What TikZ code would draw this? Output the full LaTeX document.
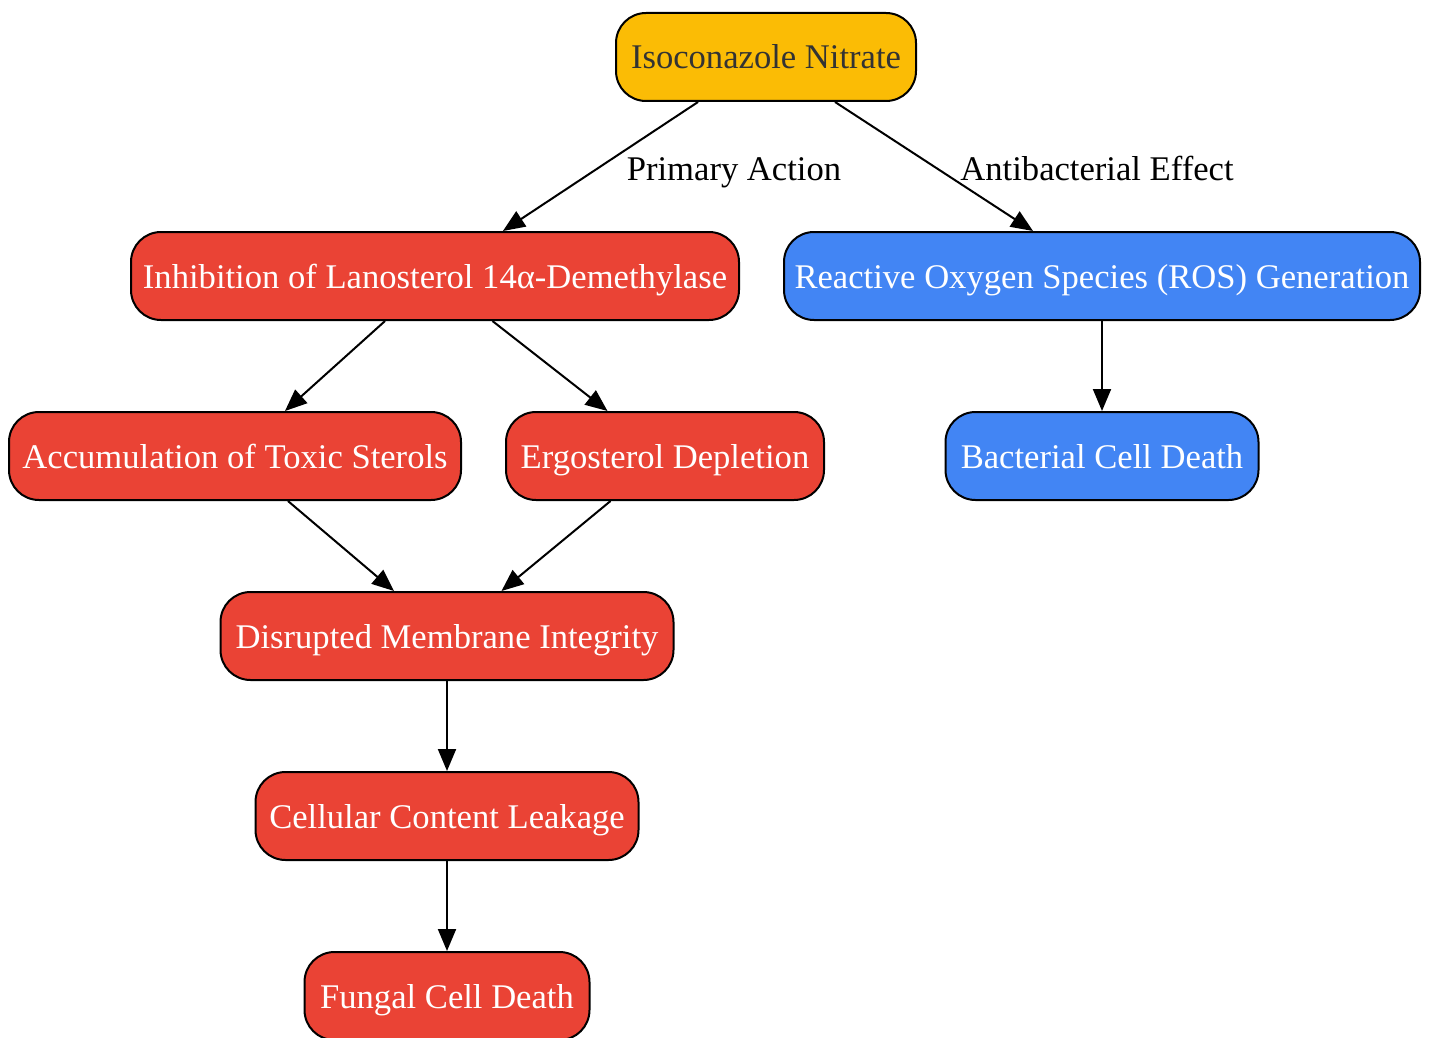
\documentclass[tikz,border=0pt]{standalone}
\usepackage{fontspec}
\setmainfont{Liberation Serif}
\usetikzlibrary{arrows.meta}

\definecolor{drugcol}{HTML}{FBBC05}
\definecolor{fungcol}{HTML}{EA4335}
\definecolor{bactcol}{HTML}{4285F4}
\definecolor{txtdark}{HTML}{333333}

\tikzset{
  stage/.style={draw=black, line width=1pt, rounded corners=15pt,
    minimum height=44pt, inner xsep=0pt, text=white,
    text height=14pt, text depth=2pt,
    font=\fontsize{17.3}{20}\selectfont},
  drug/.style={stage, fill=drugcol, text=txtdark},
  fungal/.style={stage, fill=fungcol},
  bacterial/.style={stage, fill=bactcol},
  flow/.style={-{Triangle[length=11pt,width=9pt]}, line width=1pt},
  edgelabel/.style={text height=14pt, text depth=2pt,
    font=\fontsize{17.3}{20}\selectfont}
}

\begin{document}
\begin{tikzpicture}[x=0.5pt, y=-0.5pt]
    \useasboundingbox (0,0) rectangle (1430,1038);

    % Centres of the boxes
    \coordinate (I) at (766, 57);
    \coordinate (L) at (435, 276);
    \coordinate (R) at (1102, 276);
    \coordinate (A) at (235, 456);
    \coordinate (E) at (665, 456);
    \coordinate (B) at (1102, 456);
    \coordinate (M) at (447, 636);
    \coordinate (C) at (447, 816);
    \coordinate (F) at (447, 996);

    % Draw the boxes
    \node[drug, minimum width=150pt] (iso) at (I) {Isoconazole Nitrate};
    \node[fungal, minimum width=304pt] (inhib) at (L) {Inhibition of Lanosterol 14α-Demethylase};
    \node[bacterial, minimum width=318pt] (ros) at (R) {Reactive Oxygen Species (ROS) Generation};
    \node[fungal, minimum width=226pt] (accum) at (A) {Accumulation of Toxic Sterols};
    \node[fungal, minimum width=159pt] (ergo) at (E) {Ergosterol Depletion};
    \node[bacterial, minimum width=156.5pt] (bdeath) at (B) {Bacterial Cell Death};
    \node[fungal, minimum width=226.5pt] (membr) at (M) {Disrupted Membrane Integrity};
    \node[fungal, minimum width=191.5pt] (leak) at (C) {Cellular Content Leakage};
    \node[fungal, minimum width=142.5pt] (fdeath) at (F) {Fungal Cell Death};

    % Draw the arrows
    \draw[flow] (iso) -- (inhib);
    \draw[flow] (iso) -- (ros);
    \draw[flow] (inhib) -- (accum);
    \draw[flow] (inhib) -- (ergo);
    \draw[flow] (ros) -- (bdeath);
    \draw[flow] (accum) -- (membr);
    \draw[flow] (ergo) -- (membr);
    \draw[flow] (membr) -- (leak);
    \draw[flow] (leak) -- (fdeath);

    % Edge labels
    \node[edgelabel] (primlbl) at (734, 168) {Primary Action};
    \node[edgelabel] (antilbl) at (1097, 168) {Antibacterial Effect};
\end{tikzpicture}
\end{document}
